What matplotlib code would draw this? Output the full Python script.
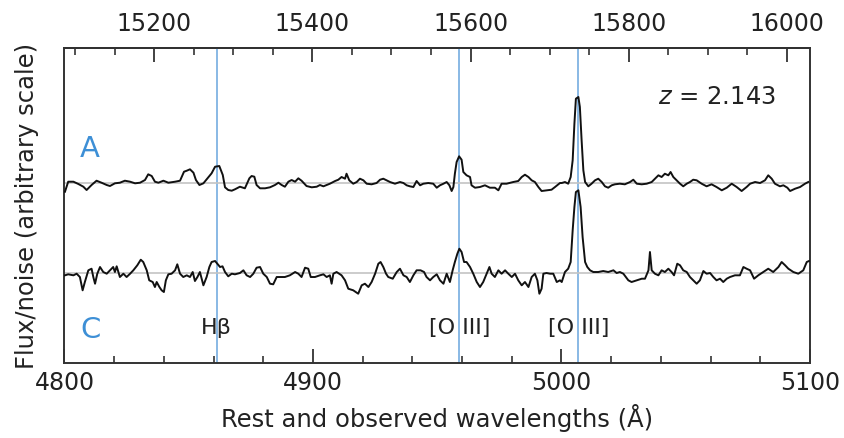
import matplotlib
matplotlib.use("Agg")
import matplotlib.pyplot as plt
from matplotlib.ticker import MultipleLocator, FixedLocator

plt.rcParams['font.family'] = ['DejaVu Sans']
plt.rcParams['mathtext.fontset'] = 'dejavusans'

# ---- data ----
z = 2.143
line_names = ["H\u03b2", "[O III]", "[O III]"]
line_rest = [4861.3, 4958.9, 5006.8]

# spectrum A (rest wavelength in Angstrom, flux/noise relative to its baseline)
wave_A = [4800.2, 4801.5, 4803.6, 4805.6, 4807.6, 4808.9, 4810.9, 4812.9, 4814.9, 4817.0,
          4818.3, 4820.3, 4822.3, 4824.3, 4826.4, 4828.4, 4830.4, 4832.4, 4833.7, 4835.1,
          4836.4, 4837.8, 4839.8, 4841.8, 4844.5, 4846.5, 4848.1, 4849.2, 4850.5, 4851.9,
          4852.9, 4854.3, 4855.9, 4857.2, 4859.2, 4860.6, 4862.3, 4863.7, 4864.6, 4865.9,
          4867.3, 4868.6, 4870.6, 4872.6, 4874.4, 4875.3, 4876.4, 4877.3, 4878.7, 4880.7,
          4882.7, 4884.7, 4886.1, 4887.4, 4888.7, 4890.1, 4891.4, 4892.8, 4894.1, 4895.4,
          4897.4, 4899.5, 4901.5, 4902.8,
          4904.2, 4906.8, 4908.9, 4910.2, 4911.5, 4912.9, 4913.5, 4914.6, 4916.2, 4917.6,
          4918.9, 4920.3, 4921.6, 4923.6, 4925.6, 4927.0, 4928.3, 4929.6, 4931.0, 4933.0,
          4935.0, 4936.4, 4937.7, 4939.0, 4940.4, 4941.7, 4943.1, 4944.4, 4946.4, 4948.4,
          4949.8, 4951.1, 4952.5, 4953.8, 4954.9, 4955.8, 4956.5, 4957.1, 4957.8, 4958.8,
          4959.8, 4960.5, 4961.8, 4963.2, 4963.8, 4965.2, 4967.2, 4969.2, 4971.2, 4973.2,
          4974.6, 4975.9, 4977.9, 4980.6, 4982.6, 4984.0, 4985.3, 4986.7, 4988.0, 4989.3,
          4990.7, 4992.0, 4994.0, 4996.0, 4997.4, 4999.4,
          5000.1, 5001.4, 5002.7, 5003.7, 5004.5, 5005.2, 5005.8, 5006.8, 5007.4, 5008.1,
          5008.8, 5009.5, 5010.8, 5012.1, 5013.5, 5014.8, 5016.2, 5017.5, 5018.8, 5020.2,
          5021.5, 5023.5, 5025.5, 5027.6, 5028.9, 5030.3, 5032.3, 5034.3, 5036.3, 5037.6,
          5039.0, 5040.3, 5041.6, 5043.0, 5043.9, 5045.0, 5046.3, 5047.7, 5049.0, 5050.4,
          5051.7, 5053.0, 5054.4, 5056.4, 5058.4, 5060.4, 5062.4, 5064.5, 5066.5, 5068.5,
          5070.5, 5072.5, 5074.5, 5075.9, 5077.9, 5079.9, 5081.9, 5083.2, 5084.6, 5085.9,
          5087.9, 5089.3, 5090.9, 5092.0, 5094.0, 5096.0, 5098.0, 5099.3]
flux_A = [-0.87, 0.13, 0.13, -0.10, -0.37, -0.70, -0.20, 0.23, 0.03, -0.20,
          -0.30, -0.03, 0.03, 0.23, 0.13, -0.03, 0.03, 0.30, 0.87, 0.70,
          0.13, 0.03, 0.23, 0.03, 0.13, 0.23, 1.13, 1.23, 1.37, 1.03,
          0.30, -0.20, -0.03, 0.37, 0.97, 1.63, 1.70, 0.80, -0.43, -0.70,
          -0.77, -0.63, -0.37, -0.53, 0.47, 0.70, 0.63, -0.20, -0.53, -0.53,
          -0.43, -0.20, 0.03, -0.20, -0.37, 0.13, 0.30, 0.13, 0.47, 0.23,
          -0.30, -0.43, -0.37, -0.20,
          -0.33, -0.07, 0.20, 0.33, 0.60, 0.43, 0.93, 0.27, -0.07, 0.10,
          0.43, 0.27, -0.07, -0.13, 0.00, 0.33, 0.43, 0.27, 0.10, -0.07,
          0.10, 0.00, -0.23, -0.33, -0.40, 0.20, -0.23, -0.07, 0.00, -0.07,
          -0.47, -0.23, -0.07, 0.10, -0.23, -0.80, -0.40, 0.93, 2.10, 2.67,
          2.33, 1.10, 0.77, 0.60, -0.23, -0.47, -0.40, -0.23, -0.47, -0.47,
          -0.73, -0.07, -0.07, 0.10, 0.20, 0.60, 0.83, 0.60, 0.27, 0.10,
          -0.40, -0.80, -0.73, -0.67, -0.40, 0.00,
          0.00, 0.10, -0.07, 0.60, 2.27, 5.93, 8.43, 8.60, 7.60, 4.27,
          1.27, 0.10, -0.33, -0.07, 0.27, 0.43, 0.10, -0.33, -0.47, -0.23,
          -0.13, -0.07, -0.13, 0.10, 0.33, -0.07, -0.13, -0.07, 0.10, 0.43,
          0.77, 0.60, 0.93, 0.77, 1.10, 0.60, 0.27, -0.07, -0.33, -0.07,
          0.10, 0.33, 0.27, -0.07, -0.33, -0.13, -0.40, -0.73, -0.47, -0.07,
          -0.40, -0.80, -0.40, -0.07, 0.10, 0.00, 0.27, 0.77, 0.43, -0.07,
          -0.33, -0.23, -0.47, -0.80, -0.57, -0.40, -0.07, 0.10]

# spectrum C
wave_C = [4800.2, 4801.5, 4803.6, 4804.9, 4806.2, 4807.3, 4808.2, 4809.6, 4810.9, 4811.6,
          4812.3, 4813.2, 4814.3, 4815.6, 4817.0, 4818.3, 4819.6, 4820.3, 4821.0, 4822.3,
          4823.7, 4825.0, 4826.4, 4827.7, 4829.3, 4830.7, 4831.7, 4833.1, 4834.1, 4835.5,
          4836.4, 4837.1, 4838.2, 4839.1, 4840.0, 4840.8, 4841.8, 4843.1, 4844.5, 4845.4,
          4846.5, 4847.8, 4849.2, 4850.5, 4851.6, 4852.5, 4853.5, 4854.5, 4855.9, 4857.2,
          4858.3, 4859.2, 4860.6, 4861.5, 4862.6, 4863.6, 4864.6, 4865.9, 4867.3, 4868.6,
          4870.6, 4872.0, 4873.3, 4874.7, 4876.0, 4877.3, 4878.7, 4880.0, 4881.4, 4882.7,
          4884.0, 4885.4, 4886.7, 4888.7, 4890.7, 4892.8, 4894.1, 4895.4, 4896.8, 4898.1,
          4899.1, 4900.8, 4902.8,
          4904.2, 4905.5, 4906.8, 4907.5, 4908.2, 4909.5, 4911.5, 4912.9, 4914.2, 4916.2,
          4918.2, 4919.6, 4920.9, 4922.3, 4923.6, 4925.0, 4926.3, 4927.2, 4928.3, 4929.4,
          4930.3, 4932.1, 4933.7, 4935.0, 4936.4, 4937.7, 4939.0, 4940.4, 4941.7, 4943.3,
          4944.7, 4945.7, 4947.1, 4948.4, 4949.8, 4951.1, 4952.5, 4953.8, 4955.1, 4956.2,
          4957.1, 4958.1, 4958.9, 4959.8, 4960.8, 4961.8, 4963.2, 4964.5, 4965.9, 4967.2,
          4968.5, 4969.9, 4971.0, 4971.9, 4973.2, 4974.6, 4975.9, 4977.3, 4978.6, 4980.0,
          4981.3, 4982.6, 4984.0, 4985.3, 4986.7, 4988.0, 4989.3, 4990.3, 4991.1, 4992.0,
          4992.7, 4994.0, 4995.4, 4996.7, 4998.1, 4999.4,
          5000.1, 5001.4, 5002.7, 5003.7, 5004.5, 5005.2, 5005.8, 5006.8, 5007.7, 5008.5,
          5009.5, 5010.4, 5011.5, 5012.8, 5014.8, 5016.8, 5018.8, 5020.9, 5022.2, 5023.5,
          5024.9, 5026.9, 5028.2, 5030.3, 5032.3, 5033.6, 5035.0, 5035.6, 5036.3, 5037.6,
          5039.0, 5040.3, 5041.6, 5043.0, 5044.3, 5045.3, 5046.6, 5047.7, 5049.0, 5050.4,
          5051.7, 5053.0, 5054.4, 5055.7, 5057.1, 5058.4, 5059.8, 5061.1, 5062.4, 5063.8,
          5065.1, 5066.5, 5067.8, 5069.8, 5071.8, 5073.2, 5074.5, 5075.9, 5077.5, 5079.2,
          5081.2, 5083.2, 5085.2, 5087.3, 5088.6, 5090.0, 5091.3, 5093.3, 5095.3, 5097.3,
          5098.7, 5099.6]
flux_C = [-0.23, -0.13, -0.23, -0.07, -0.40, -1.73, -0.90, 0.27, 0.43, -0.40,
          -1.07, -0.07, 0.60, 0.10, -0.07, 0.27, 0.60, 0.10, 0.67, -0.40,
          -0.07, -0.40, -0.07, 0.27, 0.77, 1.33, 1.10, 0.27, -0.73, -0.90,
          -1.40, -0.90, -1.40, -1.73, -1.90, -0.73, -0.13, -0.07, 0.27, 0.87,
          -0.07, -0.40, -0.23, -0.40, 0.10, -0.80, -0.40, 0.10, -1.23, -0.40,
          0.60, 1.10, 1.20, 0.93, 0.60, 0.67, 0.10, -0.33, -0.07, -0.13,
          0.00, 0.27, -0.23, -0.40, -0.07, 0.53, 0.60, -0.07, -0.40, -1.07,
          -1.13, -0.40, -0.40, -0.40, -0.23, 0.10, -0.07, -0.40, 0.53, 0.43,
          -0.40, -0.40, -0.23,
          -0.13, -0.40, -0.23, -1.07, -0.07, 0.10, -0.23, -0.73, -1.57, -1.73,
          -2.07, -1.23, -1.07, -1.40, -0.90, -0.07, 0.93, 1.10, 0.60, -0.07,
          -0.40, -0.57, 0.10, 0.43, -0.23, -0.40, -0.90, -0.23, 0.27, 0.27,
          0.10, -0.40, -0.73, -0.40, -0.13, -0.73, -1.07, -0.07, -0.90, 0.27,
          1.10, 1.93, 2.43, 2.10, 1.10, 1.10, 0.60, -0.07, -0.90, -1.40,
          -0.90, -0.07, 0.60, -0.07, -0.40, 0.27, -0.07, 0.27, -0.07, -0.40,
          -0.07, -0.73, -1.23, -0.90, -1.40, -0.40, -0.07, -0.73, -2.07, -1.57,
          -0.07, 0.00, -0.07, -0.07, -0.90, -0.73,
          -0.90, 0.10, 0.43, 1.10, 4.27, 6.60, 8.10, 8.27, 6.60, 3.60,
          1.10, 0.60, 0.27, 0.10, 0.10, 0.20, 0.10, 0.27, 0.00, 0.10,
          -0.07, -0.73, -0.90, -0.73, -0.57, -0.57, 0.27, 2.10, 0.27, -0.07,
          -0.23, 0.27, 0.10, 0.43, 0.10, -0.23, 0.93, 0.77, 0.27, 0.10,
          -0.40, -0.73, -1.07, -0.73, 0.20, -0.07, 0.00, -0.40, -0.73, -0.57,
          -0.90, -0.57, -0.40, -0.23, -0.23, 0.60, 0.43, 0.27, -0.57, -0.23,
          0.10, 0.43, 0.10, 0.60, 1.10, 0.77, 0.43, 0.10, -0.07, 0.27,
          1.10, 1.20]

offset_A = 18.0
offset_C = 9.0

# ---- figure ----
fig = plt.figure(figsize=(8.44, 4.38), dpi=100)
ax = fig.add_axes([0.0764, 0.1712, 0.8833, 0.7192])

blue = "#6aa6de"
label_blue = "#3d8fd6"
text_col = "#222222"
for lam in line_rest:
    ax.axvline(lam, color=blue, lw=1.1, zorder=1)

ax.axhline(offset_A, color="#c4c4c4", lw=1.2, zorder=2)
ax.axhline(offset_C, color="#c4c4c4", lw=1.2, zorder=2)

ax.plot(wave_A, [v + offset_A for v in flux_A], color="#111111", lw=1.4, zorder=3)
ax.plot(wave_C, [v + offset_C for v in flux_C], color="#111111", lw=1.4, zorder=3)

ax.set_xlim(4800, 5100)
ax.set_ylim(0, 31.5)

ax.text(4810.3, 21.4, "A", color=label_blue, fontsize=21, ha="center", va="center")
ax.text(4810.3, 3.3, "C", color=label_blue, fontsize=21, ha="center", va="center")
for name, lam in zip(line_names, line_rest):
    ax.text(lam, 3.5, name, fontsize=16, ha="center", va="center", color=text_col)
ax.text(5062.6, 26.6, r"$z$ = 2.143", fontsize=17.5, ha="center", va="center", color=text_col)

for s in ax.spines.values():
    s.set_linewidth(1.4)
    s.set_color("#333333")

ax.xaxis.set_major_locator(MultipleLocator(100))
ax.xaxis.set_minor_locator(MultipleLocator(20))
ax.tick_params(axis="x", which="major", direction="in", length=10, width=1.3,
               labelsize=17, pad=6, colors="#333333", labelcolor=text_col)
ax.tick_params(axis="x", which="minor", direction="in", length=5, width=1.2, colors="#333333")
ax.tick_params(axis="y", left=False, labelleft=False)

top = ax.secondary_xaxis("top", functions=(lambda x: x * (1 + z), lambda x: x / (1 + z)))
top.xaxis.set_major_locator(FixedLocator([15200, 15400, 15600, 15800, 16000]))
top.xaxis.set_minor_locator(MultipleLocator(50))
top.tick_params(axis="x", which="major", direction="in", length=10, width=1.3,
                labelsize=17, pad=8.5, colors="#333333", labelcolor=text_col)
top.tick_params(axis="x", which="minor", direction="in", length=5, width=1.2, colors="#333333")
top.spines["top"].set_linewidth(1.4)

ax.set_xlabel("Rest and observed wavelengths (\u00c5)", fontsize=17.5, color=text_col, labelpad=6)
ax.set_ylabel("Flux/noise (arbitrary scale)", fontsize=17.5, color=text_col, labelpad=18)

fig.savefig("out.png", dpi=100)
